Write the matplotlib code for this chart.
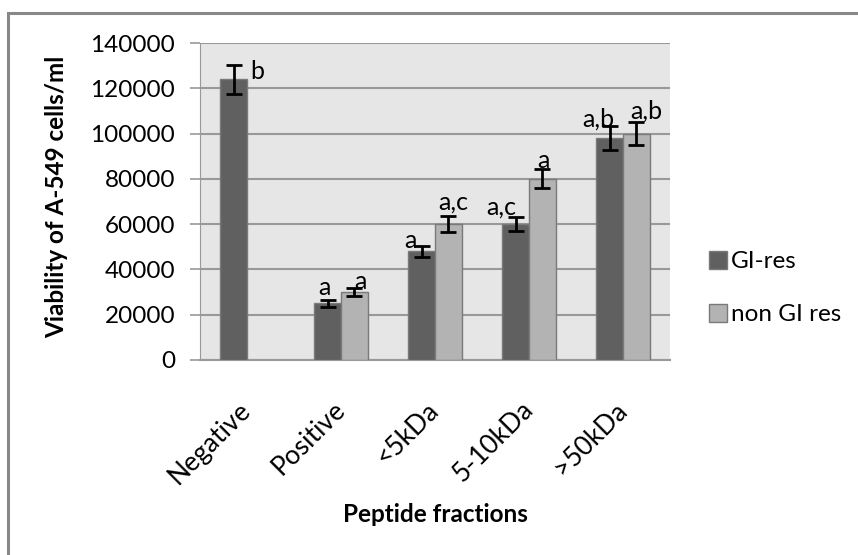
import numpy as np
import matplotlib.pyplot as plt
from matplotlib.patches import Rectangle

plt.rcParams['font.family'] = ['Lato', 'DejaVu Sans']

# data
categories = ['Negative', 'Positive', '<5kDa', '5-10kDa', '>50kDa']
gi_res = [124000, 25000, 48000, 60000, 98000]
gi_res_err = [6500, 1500, 2400, 3200, 5300]
non_gi = [np.nan, 30000, 60000, 80000, 100000]
non_gi_err = [np.nan, 1800, 3500, 4200, 5100]
gi_labels = ['b', 'a', 'a', 'a,c', 'a,b']
non_gi_labels = ['', 'a', 'a,c', 'a', 'a,b']
yticks = [0, 20000, 40000, 60000, 80000, 100000, 120000, 140000]

# where the letters sit (value axis)
gi_label_y = [127200, 32200, 52700, 67600, 106400]
non_gi_label_y = [np.nan, 34500, 69800, 87900, 110000]

fig = plt.figure(figsize=(8.58, 5.55), dpi=100)
ax = fig.add_axes([200 / 858, 1 - 360 / 555, 470 / 858, 317 / 555])

x = np.arange(len(categories))
w = 0.283
dark = '#606060'
light = '#b3b3b3'

ax.bar(x - w / 2, gi_res, w, color=dark, edgecolor='#7a7a7a', linewidth=1, zorder=3, label='GI-res')
ax.bar(x + w / 2, non_gi, w, color=light, edgecolor='#7a7a7a', linewidth=1, zorder=3, label='non GI res')
ax.errorbar(x - w / 2, gi_res, yerr=gi_res_err, fmt='none', ecolor='black', elinewidth=2,
            capsize=6, capthick=2, zorder=4)
ax.errorbar(x + w / 2, non_gi, yerr=non_gi_err, fmt='none', ecolor='black', elinewidth=2,
            capsize=6, capthick=2, zorder=4)

# significance letters
fs = 17.5
gi_dx = [0.9, -0.14, -0.44, -0.53, -0.41]
non_dx = [0, 0.22, 0.20, 0.05, 0.39]
for i in range(len(categories)):
    ax.text(x[i] - w / 2 + gi_dx[i] * w, gi_label_y[i], gi_labels[i],
            fontsize=18, ha='center', va='center', zorder=5)
    if non_gi_labels[i]:
        ax.text(x[i] + w / 2 + non_dx[i] * w, non_gi_label_y[i], non_gi_labels[i],
                fontsize=18, ha='center', va='center', zorder=5)

ax.set_xlim(-0.5, len(categories) - 0.5)
ax.set_ylim(0, 140000)
ax.set_yticks(yticks)
ax.set_yticklabels([str(v) for v in yticks], fontsize=fs)
ax.set_xticks(x)
ax.set_xticklabels(categories, fontsize=19, rotation=45, ha='right', va='center',
                   rotation_mode='anchor')
ax.tick_params(axis='x', length=0, pad=33)
ax.tick_params(axis='y', length=7, width=1.2, color='#999999', pad=11)
ax.set_facecolor('#e6e6e6')
ax.grid(axis='y', color='#999999', linewidth=1.5, zorder=0)
ax.set_axisbelow(True)
for side in ['top', 'right']:
    ax.spines[side].set_visible(False)
ax.spines['left'].set_color('#999999')
ax.spines['bottom'].set_color('#999999')
ax.spines['bottom'].set_linewidth(1.5)

fig.text(57 / 858, 1 - 197 / 555, 'Viability of A-549 cells/ml', rotation=90,
         fontsize=fs, fontweight='bold', ha='center', va='center')
fig.text(435 / 858, 1 - 515 / 555, 'Peptide fractions', fontsize=fs,
         fontweight='bold', ha='center', va='center')

fig.legend(loc='center left', bbox_to_anchor=(687 / 858, 1 - 288 / 555), frameon=False,
           fontsize=fs, handlelength=0.75, handleheight=0.75, handletextpad=0.15,
           labelspacing=1.3)

# outer chart border (right and bottom edges fall outside the image)
fig.patches.append(Rectangle((8 / 858, -0.1), 1.1, 1 - 13 / 555 + 0.1, transform=fig.transFigure,
                             fill=False, edgecolor='#888888', linewidth=2.2))

fig.savefig('out.png', dpi=100)
